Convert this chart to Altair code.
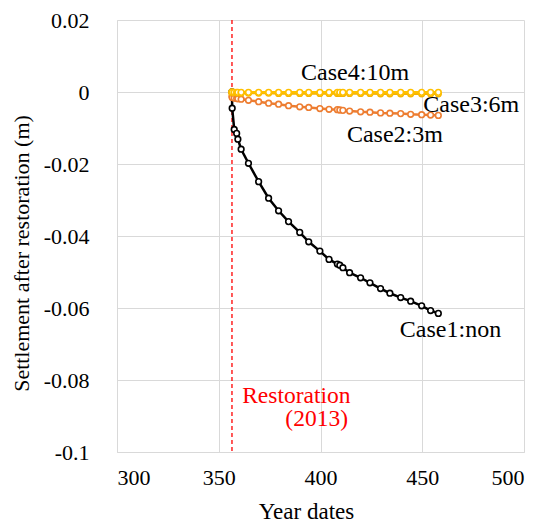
import altair as alt
import pandas as pd

# Data
days = [356.5, 356.6, 357.6, 358.8, 359.4, 361, 364.6, 369.6, 374.5, 379.4, 384.3,
        389.8, 394.2, 399.7, 404.2, 408.3, 409.5, 411, 414.3, 419.7, 424.3, 429.5,
        434.1, 439.4, 444.3, 449.7, 454.1, 457.9]
case1 = [0.0, -0.0045, -0.0104, -0.0115, -0.0131, -0.0159, -0.0198, -0.0249, -0.0295,
         -0.0330, -0.0360, -0.0390, -0.0416, -0.0442, -0.0465, -0.0478, -0.0481, -0.0488,
         -0.0502, -0.0516, -0.0530, -0.0546, -0.0559, -0.0571, -0.0581, -0.0594, -0.0607,
         -0.0615]
case2 = [-0.0012, -0.0015, -0.0017, -0.0018, -0.0019, -0.0020, -0.0023, -0.0027, -0.0031,
         -0.0034, -0.0038, -0.0041, -0.0043, -0.0046, -0.0048, -0.0049, -0.0050, -0.0051,
         -0.0053, -0.0055, -0.0056, -0.0058, -0.0059, -0.0060, -0.0062, -0.0063, -0.0064,
         -0.0065]
case3 = [-0.0002, -0.0003, -0.0003, -0.0003, -0.0003, -0.0003, -0.0003, -0.0003, -0.0003,
         -0.0004, -0.0004, -0.0004, -0.0004, -0.0004, -0.0004, -0.0004, -0.0004, -0.0004,
         -0.0004, -0.0004, -0.0004, -0.0005, -0.0005, -0.0005, -0.0005, -0.0005, -0.0005,
         -0.0005]
case4 = [0.0, -0.0001, -0.0001, -0.0001, -0.0001, -0.0001, -0.0001, -0.0001, -0.0001,
         -0.0001, -0.0001, -0.0001, -0.0001, -0.0001, -0.0001, -0.0001, -0.0001, -0.0001,
         -0.0001, -0.0001, -0.0001, -0.0001, -0.0001, -0.0001, -0.0001, -0.0001, -0.0001,
         -0.0001]

series_names = ["Case1:non", "Case2:3m", "Case3:6m", "Case4:10m"]
series_colors = ["#000000", "#ED7D31", "#F5B400", "#FFC000"]

restoration_day = [356.5]

label_text = ["Case4:10m", "Case3:6m", "Case2:3m", "Case1:non"]
label_x = [417, 450.5, 413, 439]
label_y = [0.0053, -0.0036, -0.0119, -0.066]

rest_text = ["Restoration", "(2013)"]
rest_x = [361.5, 413.5]
rest_y = [-0.0845, -0.0907]

FONT = "Liberation Serif"

rows = []
for name, vals in zip(series_names, [case1, case2, case3, case4]):
    for d, v in zip(days, vals):
        rows.append({"day": d, "settlement": v, "series": name})
df = pd.DataFrame(rows)

xscale = alt.Scale(domain=[300, 500], nice=False, zero=False)
yscale = alt.Scale(domain=[-0.1, 0.02], nice=False, zero=False)

xaxis = alt.Axis(values=[300, 350, 400, 450, 500], format="d", title="Year dates",
                 grid=True, gridColor="#d9d9d9", domainColor="#d9d9d9", ticks=False,
                 labelFont=FONT, labelFontSize=22, labelColor="#000000", labelPadding=15,
                 titleFont=FONT, titleFontSize=23, titleFontWeight="normal",
                 titleColor="#000000", titlePadding=12, titleX=189)
yaxis = alt.Axis(values=[-0.1, -0.08, -0.06, -0.04, -0.02, 0, 0.02], format="~g",
                 labelExpr="replace(datum.label, '\u2212', '-')",
                 title="Settlement after restoration (m)",
                 grid=True, gridColor="#d9d9d9", domainColor="#d9d9d9", ticks=False,
                 labelFont=FONT, labelFontSize=22, labelColor="#000000", labelPadding=28,
                 titleFont=FONT, titleFontSize=22, titleFontWeight="normal",
                 titleColor="#000000", titlePadding=10, titleY=233)

lines = alt.Chart(df).mark_line(
    strokeWidth=2.5,
    point=alt.OverlayMarkDef(filled=False, fill="white", size=32, strokeWidth=1.6),
).encode(
    x=alt.X("day:Q", scale=xscale, axis=xaxis),
    y=alt.Y("settlement:Q", scale=yscale, axis=yaxis),
    color=alt.Color("series:N", scale=alt.Scale(domain=series_names, range=series_colors),
                    legend=None),
    order=alt.Order("day:Q"),
)

rule = alt.Chart(pd.DataFrame({"day": restoration_day})).mark_rule(
    color="#FF0000", strokeDash=[4, 3], strokeWidth=1.3
).encode(x=alt.X("day:Q", scale=xscale))


def text_layer(t, x, y, align, color, size):
    return alt.Chart(pd.DataFrame({"t": t, "x": x, "y": y})).mark_text(
        font=FONT, fontSize=size, color=color, baseline="middle", align=align
    ).encode(x=alt.X("x:Q", scale=xscale), y=alt.Y("y:Q", scale=yscale), text="t:N")


lab_center = text_layer(label_text[:1], label_x[:1], label_y[:1], "center", "#000000", 24)
lab_left = text_layer(label_text[1:], label_x[1:], label_y[1:], "left", "#000000", 24)
rest_left = text_layer(rest_text[:1], rest_x[:1], rest_y[:1], "left", "#FF0000", 23.5)
rest_right = text_layer(rest_text[1:], rest_x[1:], rest_y[1:], "right", "#FF0000", 23.5)

chart = alt.layer(rule, lines, lab_center, lab_left, rest_left, rest_right).properties(
    width=407, height=432,
    autosize=alt.AutoSizeParams(type="none"),
    padding={"left": 117, "top": 20, "right": 21, "bottom": 71},
    background="white",
).configure_view(stroke=None).configure_axis(labelFont=FONT, titleFont=FONT)

chart.save("out.html", embed_options={"renderer": "svg", "actions": False})
